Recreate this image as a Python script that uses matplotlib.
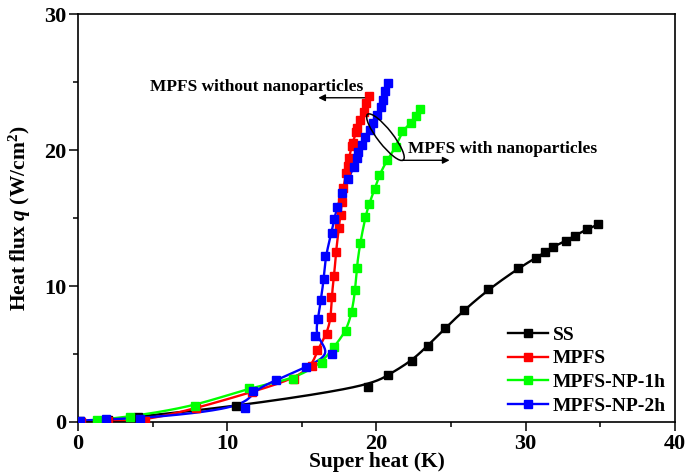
"""Pool boiling curves: heat flux vs super heat for SS / MPFS / MPFS-NP samples."""

import numpy as np
import matplotlib

matplotlib.use("Agg")
import matplotlib.pyplot as plt  # noqa: E402
from matplotlib.patches import Ellipse  # noqa: E402
from matplotlib.ticker import MultipleLocator  # noqa: E402
from matplotlib.transforms import ScaledTranslation  # noqa: E402

# --- data (super heat K, heat flux W/cm^2) ---
SS_X = [0.1, 2.0, 4.05, 10.6, 19.45, 20.8, 22.36, 23.42, 24.6, 25.89, 27.5,
        29.51, 30.68, 31.29, 31.85, 32.7, 33.3, 34.08, 34.87]
SS_Y = [0.05, 0.15, 0.4, 1.15, 2.6, 3.46, 4.49, 5.6, 6.9, 8.24, 9.75,
        11.3, 12.08, 12.47, 12.9, 13.33, 13.7, 14.17, 14.53]

MPFS_X = [0.2, 2.0, 4.5, 7.9, 11.65, 14.45, 15.7, 16.03, 16.66, 16.96,
          16.98, 17.17, 17.28, 17.48, 17.6, 17.68, 17.78, 17.96, 18.06, 18.18,
          18.33, 18.4, 18.66, 18.7, 18.9, 19.15, 19.3, 19.52]
MPFS_Y = [0.02, 0.08, 0.1, 1.0, 2.2, 3.16, 4.12, 5.3, 6.44, 7.7,
          9.17, 10.76, 12.48, 14.29, 15.25, 16.2, 17.2, 18.3, 18.8, 19.45,
          20.3, 20.55, 21.3, 21.6, 22.2, 22.8, 23.45, 23.97]

NP1H_X = [1.25, 3.45, 7.85, 11.45, 14.43, 16.32, 17.17, 17.99, 18.36, 18.58,
          18.67, 18.9, 19.26, 19.5, 19.87, 20.2, 20.7, 21.3, 21.72, 22.33,
          22.66, 22.9]
NP1H_Y = [0.15, 0.38, 1.15, 2.52, 3.14, 4.31, 5.54, 6.72, 8.11, 9.7,
          11.35, 13.14, 15.1, 16.03, 17.11, 18.2, 19.24, 20.22, 21.4, 22.02,
          22.53, 23.0]

NP2H_X = [0.13, 1.85, 4.15, 11.2, 11.7, 13.3, 15.25, 17.05, 15.86, 16.08,
          16.27, 16.47, 16.58, 16.99, 17.16, 17.38, 17.7, 18.11, 18.49, 18.67,
          18.73, 19.0, 19.22, 19.56, 19.78, 20.05, 20.27, 20.45, 20.58, 20.76]
NP2H_Y = [0.1, 0.2, 0.25, 1.0, 2.3, 3.09, 4.02, 5.0, 6.3, 7.55,
          8.97, 10.49, 12.18, 13.93, 14.9, 15.83, 16.86, 17.84, 18.77, 19.39,
          19.88, 20.37, 20.93, 21.47, 22.0, 22.57, 23.14, 23.72, 24.36, 24.9]

SERIES = [
    ("SS", SS_X, SS_Y, "#000000"),
    ("MPFS", MPFS_X, MPFS_Y, "#ff0000"),
    ("MPFS-NP-1h", NP1H_X, NP1H_Y, "#00ff00"),
    ("MPFS-NP-2h", NP2H_X, NP2H_Y, "#0000ff"),
]

plt.rcParams["font.family"] = ["Liberation Serif", "DejaVu Serif"]
plt.rcParams["font.weight"] = "bold"
plt.rcParams["mathtext.fontset"] = "custom"
plt.rcParams["mathtext.rm"] = "Liberation Serif:bold"
plt.rcParams["mathtext.it"] = "Liberation Serif:italic:bold"
plt.rcParams["mathtext.bf"] = "Liberation Serif:bold"


def bspline(xs, ys, n=24):
    """Uniform cubic B-spline through the data as control points (Origin-style smoothing)."""
    px = np.r_[xs[0], xs[0], xs, xs[-1], xs[-1]]
    py = np.r_[ys[0], ys[0], ys, ys[-1], ys[-1]]
    t = np.linspace(0, 1, n, endpoint=False)
    b = np.array([(1 - t) ** 3, 3 * t**3 - 6 * t**2 + 4,
                  -3 * t**3 + 3 * t**2 + 3 * t + 1, t**3]) / 6
    cx, cy = [], []
    for i in range(len(px) - 3):
        cx.append(b.T @ px[i:i + 4])
        cy.append(b.T @ py[i:i + 4])
    cx.append([xs[-1]])
    cy.append([ys[-1]])
    return np.concatenate(cx), np.concatenate(cy)


fig = plt.figure(figsize=(6.88, 4.72), dpi=100)
ax = fig.add_axes([0.1134, 0.106, 0.8676, 0.864])

for label, xs, ys, color in SERIES:
    sx, sy = bspline(xs, ys)
    ax.plot(sx, sy, color=color, lw=1.7, zorder=2)
    ax.plot(xs, ys, ls="none", marker="s", ms=6.0, color=color, zorder=3)
    # legend proxy: line + marker
    ax.plot([], [], color=color, lw=1.7, marker="s", ms=6.0, label=label)

ax.set_xlim(0, 40)
ax.set_ylim(0, 30)
ax.xaxis.set_major_locator(MultipleLocator(10))
ax.xaxis.set_minor_locator(MultipleLocator(5))
ax.yaxis.set_major_locator(MultipleLocator(10))
ax.yaxis.set_minor_locator(MultipleLocator(5))
ax.tick_params(which="both", direction="out", top=False, right=False, width=1.1)
ax.tick_params(which="major", length=6.5, labelsize=16, pad=2)
ax.tick_params(which="minor", length=3.5)
for sp in ax.spines.values():
    sp.set_linewidth(1.2)

ax.set_xlabel("Super heat (K)", fontsize=15.5, fontweight="bold", labelpad=-1)
ax.set_ylabel(r"Heat flux $\it{q}$ (W/cm$^{2}$)", fontsize=15.5,
              fontweight="bold", labelpad=8)

ax.legend(loc="upper left", bbox_to_anchor=(508 / 688, 1 - 326 / 472),
          bbox_transform=fig.transFigure, frameon=False, fontsize=14,
          handlelength=2.05, handletextpad=0.25, labelspacing=0.32,
          borderpad=0, borderaxespad=0)

# annotations
ax.annotate("", xy=(16.1, 23.85), xytext=(19.2, 23.85),
            arrowprops=dict(arrowstyle="-|>", color="black", lw=1.0,
                            mutation_scale=10, shrinkA=0, shrinkB=0))
ax.text(4.8, 24.65, "MPFS without nanoparticles", fontsize=12.5,
        fontweight="bold", va="center", ha="left")

ell_pos = ScaledTranslation(20.6, 20.95, ax.transData)
ax.add_patch(Ellipse((0, 0), 0.58, 0.15, angle=-52, fill=False, lw=1.1,
                     edgecolor="black",
                     transform=fig.dpi_scale_trans + ell_pos, zorder=4))
ax.annotate("", xy=(24.9, 19.25), xytext=(21.75, 19.25),
            arrowprops=dict(arrowstyle="-|>", color="black", lw=1.0,
                            mutation_scale=10, shrinkA=0, shrinkB=0))
ax.text(22.1, 20.1, "MPFS with nanoparticles", fontsize=12.5,
        fontweight="bold", va="center", ha="left")

fig.savefig("out.png", dpi=100)
